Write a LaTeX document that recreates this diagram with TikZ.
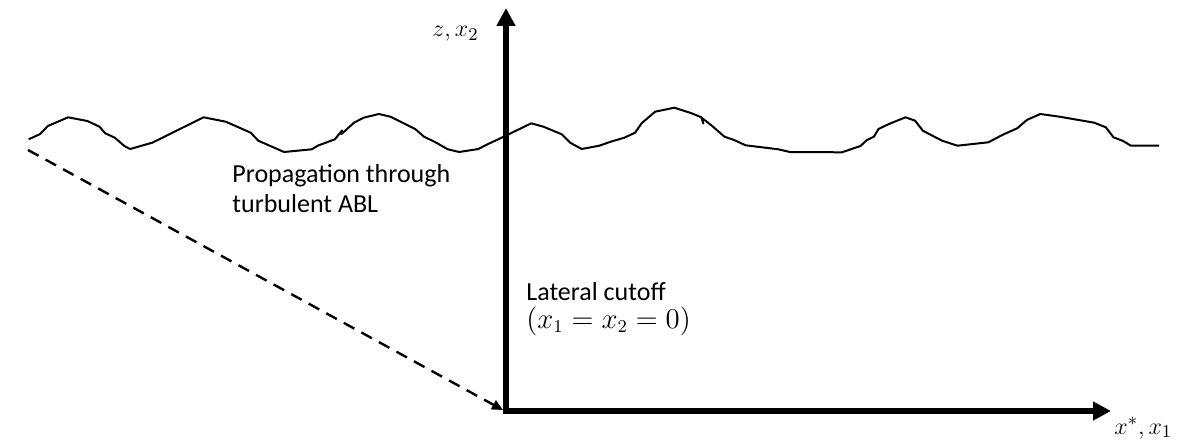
\documentclass[tikz,border=0pt]{standalone}
\usepackage{fontspec}
\setmainfont{Carlito}
\usetikzlibrary{arrows.meta}

\begin{document}
\begin{tikzpicture}[x=0.5pt,y=-0.5pt,
    axis/.style={line width=3pt,-{Triangle[length=9pt,width=9pt]}},
    ray/.style={line width=1.2pt,dash pattern=on 6pt off 4pt,-{Triangle[length=5.5pt,width=5pt]}},
    surf/.style={line width=1pt,line join=round},
    lbl/.style={font=\fontsize{13}{15}\selectfont,inner sep=0pt,align=left}]
      \useasboundingbox (0,0) rectangle (1184,444);
      \coordinate (O) at (506,411);
      \coordinate (ztop) at (506,8);
      \coordinate (xend) at (1111,411);
      \coordinate (src) at (28,150);
      \coordinate (rayend) at (503,410);
      % top of the boundary layer
      \draw[surf] (28.7,139.3)--(40.2,134)--(47.8,126)--(68.1,117.3)--(87.3,121)
        --(99.5,126.7)--(105.2,133.3)--(114.8,137.7)--(124.4,146)--(130.1,149)
        --(152.3,142.7)--(203.6,117.3)--(225.8,121.7)--(250.7,132.7)--(258.3,140.7)
        --(284,152)--(311.9,149.3)--(317.7,145.7)--(334.9,139.3)--(342,130.5)
        --(341.5,134)--(354,122.7)--(363.6,117.7)--(378.9,114)--(390.4,116.7)
        --(415.2,129)--(424,136.7)--(436.3,142.7)--(447.8,149.3)--(459.2,152)
        --(478.4,149)--(486,145)--(505.2,136)--(531.2,123.3)--(543.4,126.7)
        --(561.8,134.3)--(570.2,142.7)--(581.7,149)--(599.3,145.7)--(610.8,141.7)
        --(624.3,137.7)--(635.1,132.7)--(641.6,123.3)--(655.1,111.7)--(674.4,107.7)
        --(691.7,113.3)--(701.3,117.3)--(703.3,123.5)--(702,118)--(711,125)
        --(724.5,136.7)--(734.1,140)--(745.6,145.3)--(778.4,149.3)--(789.9,152)
        --(841.9,152.3)--(860.4,146)--(867,140)--(873.9,136.7)--(878.5,129)
        --(888.2,124.3)--(905.5,117.3)--(915.1,120.7)--(922.8,130.7)--(942.1,140.7)
        --(957.5,145.7)--(988.3,142.3)--(1003.7,134.3)--(1017.2,128.3)--(1026.8,120)
        --(1040.3,114)--(1059.6,116.7)--(1094.2,122.7)--(1105.8,127.3)--(1113.5,137.3)
        --(1123.1,141)--(1130.8,145.7)--(1159,145.7);
      \draw[ray] (src) -- (rayend);
      \draw[axis] ([yshift=-1.5pt]O) -- (ztop);
      \draw[axis] ([xshift=-1.5pt]O) -- (xend);
      \node[lbl,anchor=base east] (zlab) at (479,37) {$z, x_2$};
      \node[lbl,anchor=base west] (xlab) at (1114,434) {$x^{*}, x_1$};
      \node[lbl,anchor=base west] (prop) at (232,213) {Propagation through\\turbulent ABL};
      \node[lbl,anchor=base west] (cut) at (526,328)
        {Lateral cutoff\\[-1.5pt]{\fontsize{13.5}{15}\selectfont$(x_1 = x_2 = 0)$}};
    \end{tikzpicture}
\end{document}
